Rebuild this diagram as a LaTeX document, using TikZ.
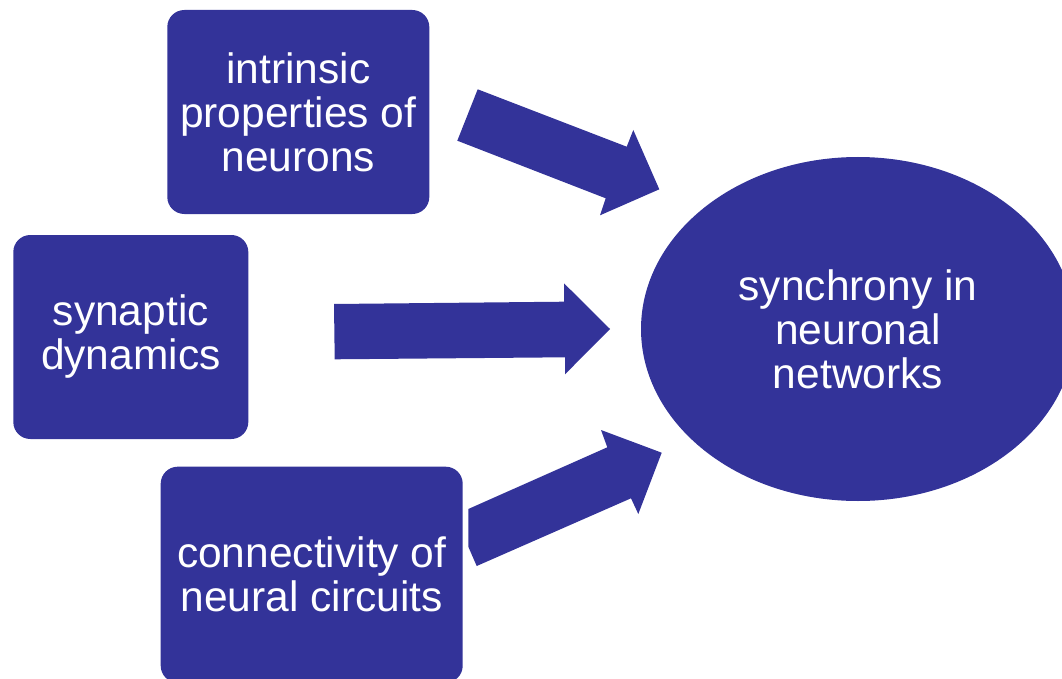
\documentclass[tikz,border=0pt]{standalone}
\usepackage{fontspec}
\setmainfont{Liberation Sans}
\usetikzlibrary{shapes.geometric}
\definecolor{navy}{HTML}{333399}
\tikzset{
  box/.style={fill=navy, rounded corners=17pt, inner sep=0pt, align=center,
    text=white, font=\fontsize{42.5}{44}\selectfont},
  oval/.style={ellipse, fill=navy, inner sep=0pt, align=center,
    text=white, font=\fontsize{42.5}{44}\selectfont},
  blockarrow/.style={fill=navy}
}
\begin{document}
\begin{tikzpicture}[x=1pt,y=-1pt]
\useasboundingbox (0,0) rectangle (1062,679);
% block arrows
\fill[blockarrow] (477.7,89.3) -- (626.7,146.7) -- (633.3,130) -- (659.3,189.3)
  -- (600,215.3) -- (605.7,198.3) -- (457.3,140.7) -- cycle;
\fill[blockarrow] (334,304) -- (564,301.7) -- (564,283.3) -- (610,329)
  -- (565,374.3) -- (565,357.3) -- (334.7,359.3) -- cycle;
\fill[blockarrow] (468.3,509) -- (607.3,447.3) -- (601,430) -- (661.7,452.7)
  -- (638.3,514) -- (631,498.3) -- (476.7,566) -- (468.3,546.7) -- cycle;
% boxes
\node[box, minimum width=262pt, minimum height=204pt] (intr) at (298.3,112)
  {intrinsic\\properties of\\neurons};
\node[box, minimum width=235pt, minimum height=204pt] (syn) at (130.8,337)
  {synaptic\\dynamics};
\node[box, minimum width=302pt, minimum height=216pt] (conn) at (311.7,574.7)
  {connectivity of\\neural circuits};
\node[oval, minimum width=434pt, minimum height=344pt] (sync) at (858,329)
  {synchrony in\\neuronal\\networks};
\end{tikzpicture}
\end{document}
